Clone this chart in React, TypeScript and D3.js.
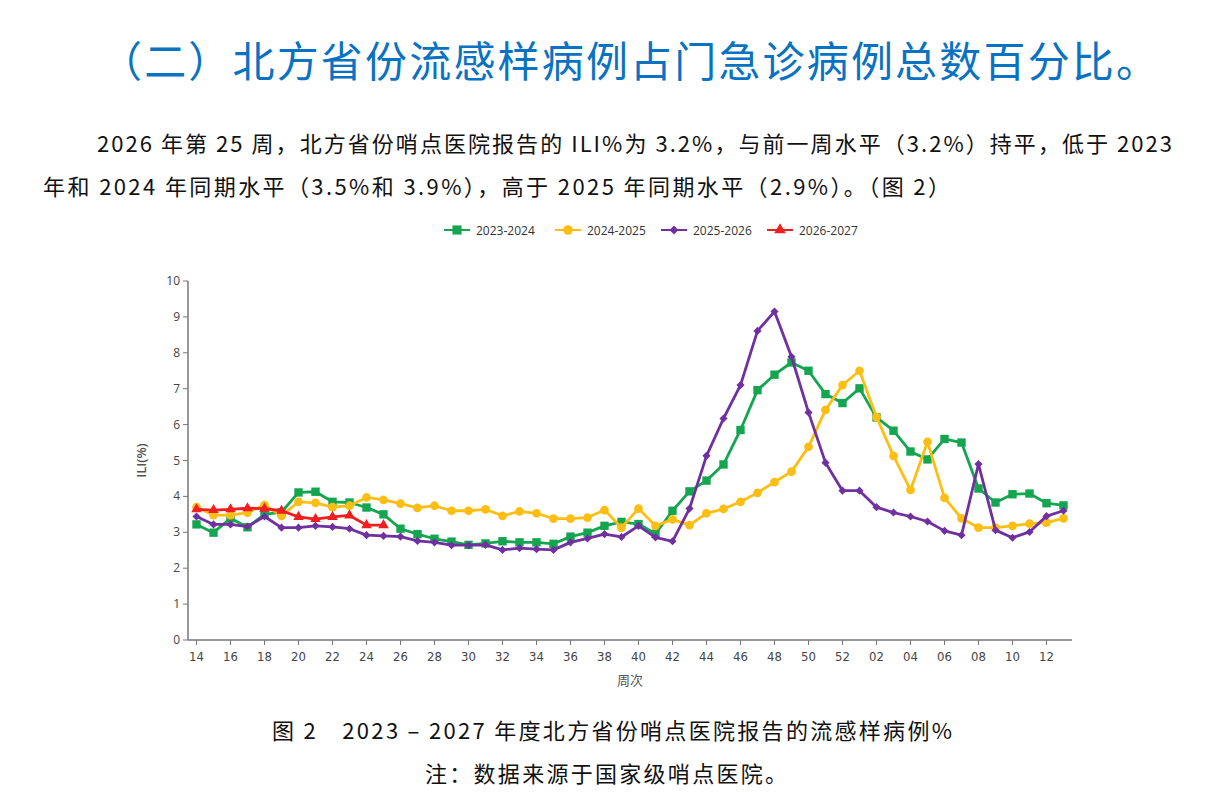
import React from "react";
import * as d3 from "d3";

// weeks 14..52 then 01..13
const weeks: string[] = [
  ...d3.range(14, 53).map((w) => String(w)),
  ...d3.range(1, 14).map((w) => String(w).padStart(2, "0")),
];

const s2023: number[] = [
  3.22, 2.99, 3.39, 3.14, 3.5, 3.56, 4.11, 4.13, 3.85, 3.83, 3.69, 3.5, 3.1,
  2.95, 2.82, 2.74, 2.65, 2.69, 2.75, 2.72, 2.72, 2.68, 2.88, 2.99, 3.18, 3.29,
  3.23, 2.96, 3.6, 4.14, 4.44, 4.89, 5.85, 6.96, 7.39, 7.73, 7.5, 6.85, 6.6,
  7.01, 6.2, 5.83, 5.25, 5.03, 5.6, 5.5, 4.22, 3.83, 4.06, 4.08, 3.81, 3.75,
];
const s2024: number[] = [
  3.7, 3.48, 3.48, 3.55, 3.76, 3.46, 3.85, 3.82, 3.7, 3.74, 3.97, 3.9, 3.8,
  3.68, 3.74, 3.6, 3.6, 3.64, 3.46, 3.58, 3.53, 3.38, 3.38, 3.41, 3.62, 3.13,
  3.66, 3.18, 3.36, 3.2, 3.53, 3.65, 3.85, 4.1, 4.4, 4.69, 5.38, 6.41, 7.1, 7.5,
  6.21, 5.13, 4.18, 5.52, 3.96, 3.39, 3.13, 3.13, 3.18, 3.24, 3.27, 3.39,
];
const s2025: number[] = [
  3.44, 3.22, 3.22, 3.16, 3.44, 3.13, 3.13, 3.18, 3.15, 3.1, 2.92, 2.9, 2.88,
  2.76, 2.72, 2.64, 2.64, 2.65, 2.51, 2.56, 2.53, 2.51, 2.72, 2.83, 2.95, 2.87,
  3.18, 2.86, 2.75, 3.66, 5.13, 6.17, 7.1, 8.61, 9.15, 7.89, 6.34, 4.94, 4.16,
  4.16, 3.7, 3.55, 3.44, 3.3, 3.04, 2.92, 4.9, 3.06, 2.85, 3.01, 3.45, 3.6,
];
const s2026: number[] = [
  3.64, 3.62, 3.64, 3.67, 3.66, 3.6, 3.43, 3.37, 3.43, 3.47, 3.2, 3.2,
];

const seriesNames = ["2023-2024", "2024-2025", "2025-2026", "2026-2027"];
const seriesValues = [s2023, s2024, s2025, s2026];
const seriesColors = ["#13A54F", "#FDBE14", "#7030A0", "#F01E1E"];
const seriesMarkers = ["square", "circle", "diamond", "triangle"];

const yTicks = d3.range(0, 11);

const width = 1215;
const height = 812;
const plot = { left: 188, right: 1072, top: 281, bottom: 640 };

const x = d3
  .scaleBand<string>()
  .domain(weeks)
  .range([plot.left, plot.right]);
const y = d3.scaleLinear().domain([0, 10]).range([plot.bottom, plot.top]);
const cx = (w: string) => (x(w) ?? 0) + x.bandwidth() / 2;

const line = d3
  .line<number>()
  .x((_, i) => cx(weeks[i]))
  .y((d) => y(d));

const symbolPath = (kind: string, size: number) => {
  const type =
    kind === "square"
      ? d3.symbolSquare
      : kind === "circle"
      ? d3.symbolCircle
      : kind === "diamond"
      ? d3.symbolDiamond2
      : d3.symbolTriangle;
  return d3.symbol().type(type).size(size)() || "";
};
const markerSize: Record<string, number> = {
  square: 70,
  circle: 60,
  diamond: 42,
  triangle: 48,
};

const cjk = "'Noto Sans CJK SC', 'Noto Sans', sans-serif";
const axisFont = "'Liberation Sans Narrow', 'DejaVu Sans Condensed', 'Noto Sans', sans-serif";

const legendX = [444, 555, 661, 767];

const App = () => {
  return (
    <svg
      width={width}
      height={height}
      style={{ position: "absolute", left: 0, top: 0, background: "#fff" }}
    >
      <text
        x={100}
        y={77}
        fontFamily={cjk}
        fontSize={42}
        fill="#0A72C2"
        textLength={1058}
        lengthAdjust="spacing"
      >
        （二）北方省份流感样病例占门急诊病例总数百分比。
      </text>

      <text
        x={97}
        y={152}
        fontFamily={cjk}
        fontSize={22}
        fill="#111"
        textLength={1075}
        lengthAdjust="spacing"
      >
        2026 年第 25 周，北方省份哨点医院报告的 ILI%为 3.2%，与前一周水平（3.2%）持平，低于 2023
      </text>
      <text
        x={43}
        y={195}
        fontFamily={cjk}
        fontSize={22}
        fill="#111"
        textLength={907}
        lengthAdjust="spacing"
      >
        年和 2024 年同期水平（3.5%和 3.9%），高于 2025 年同期水平（2.9%）。（图 2）
      </text>

      {/* legend */}
      {seriesNames.map((name, k) => (
        <g key={name} transform={`translate(${legendX[k]},230)`}>
          <line x1={0} x2={26} y1={0} y2={0} stroke={seriesColors[k]} strokeWidth={2} />
          <path
            transform="translate(13,0)"
            d={symbolPath(seriesMarkers[k], markerSize[seriesMarkers[k]] * 1.2)}
            fill={seriesColors[k]}
          />
          <text
            x={32}
            y={4.5}
            fontFamily="'Open Sans', 'Noto Sans', sans-serif"
            fontSize={12}
            fill="#333"
          >
            {name}
          </text>
        </g>
      ))}

      {/* y axis */}
      <line x1={plot.left} x2={plot.left} y1={plot.top} y2={plot.bottom} stroke="#777" strokeWidth={1.5} />
      {yTicks.map((t) => (
        <g key={t}>
          <line x1={plot.left - 5} x2={plot.left} y1={y(t)} y2={y(t)} stroke="#777" />
          <text
            x={plot.left - 8}
            y={y(t) + 4}
            textAnchor="end"
            fontFamily="'Open Sans', 'Noto Sans', sans-serif"
            fontSize={12}
            fill="#444"
          >
            {t}
          </text>
        </g>
      ))}
      <text
        transform={`translate(146,${(plot.top + plot.bottom) / 2}) rotate(-90)`}
        textAnchor="middle"
        fontFamily="'Open Sans', 'Noto Sans', sans-serif"
        fontSize={13}
        fontWeight={600}
        fill="#555"
      >
        ILI(%)
      </text>

      {/* x axis */}
      <line x1={plot.left} x2={plot.right} y1={plot.bottom} y2={plot.bottom} stroke="#777" strokeWidth={1.5} />
      {weeks.map((w, i) =>
        i % 2 === 0 ? (
          <g key={w}>
            <line x1={cx(w)} x2={cx(w)} y1={plot.bottom} y2={plot.bottom + 5} stroke="#777" />
            <text
              x={cx(w)}
              y={plot.bottom + 21}
              textAnchor="middle"
              fontFamily={axisFont}
              fontSize={13}
              fill="#444"
            >
              {w}
            </text>
          </g>
        ) : null
      )}
      <text
        x={630}
        y={685}
        textAnchor="middle"
        fontFamily={cjk}
        fontSize={13}
        fill="#555"
      >
        周次
      </text>

      {/* series */}
      {seriesValues.map((vals, k) => (
        <g key={seriesNames[k]}>
          <path
            d={line(vals) || ""}
            fill="none"
            stroke={seriesColors[k]}
            strokeWidth={2.8}
            strokeLinejoin="round"
          />
          {vals.map((v, i) => (
            <path
              key={i}
              transform={`translate(${cx(weeks[i])},${y(v)})`}
              d={symbolPath(seriesMarkers[k], markerSize[seriesMarkers[k]])}
              fill={seriesColors[k]}
            />
          ))}
        </g>
      ))}

      {/* caption */}
      <text
        x={272}
        y={739}
        fontFamily={cjk}
        fontSize={22}
        fill="#111"
        textLength={680}
        lengthAdjust="spacing"
      >
        图 2　2023 – 2027 年度北方省份哨点医院报告的流感样病例%
      </text>
      <text
        x={425}
        y={782}
        fontFamily={cjk}
        fontSize={22}
        fill="#111"
        textLength={362}
        lengthAdjust="spacing"
      >
        注：数据来源于国家级哨点医院。
      </text>
    </svg>
  );
};

export default App;
